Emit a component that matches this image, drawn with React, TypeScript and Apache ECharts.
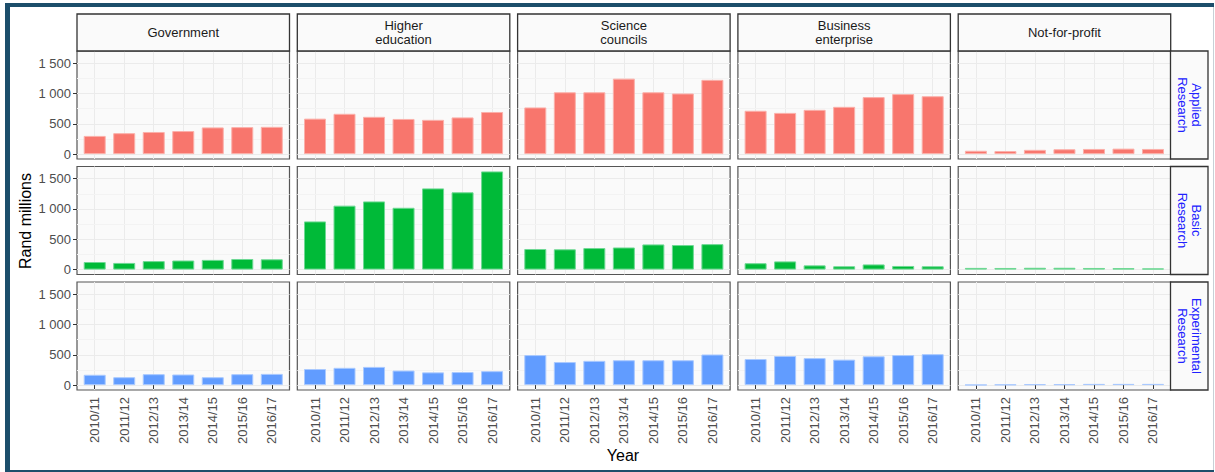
import React, { useEffect, useRef } from "react";
import * as echarts from "echarts";

const years = ["2010/11", "2011/12", "2012/13", "2013/14", "2014/15", "2015/16", "2016/17"];
const sectors = ["Government", "Higher\neducation", "Science\ncouncils", "Business\nenterprise", "Not-for-profit"];
const researchTypes = ["Applied\nResearch", "Basic\nResearch", "Experimental\nResearch"];
const yTicks = [0, 500, 1000, 1500];
const yMinorTicks = [250, 750, 1250];

// Applied research
const appliedGovernment = [300, 345, 365, 380, 440, 445, 450];
const appliedHigherEd = [585, 665, 615, 580, 565, 605, 695];
const appliedScience = [770, 1020, 1020, 1245, 1020, 1000, 1225];
const appliedBusiness = [715, 680, 730, 780, 940, 990, 955];
const appliedNotForProfit = [55, 50, 70, 80, 85, 90, 85];
// Basic research
const basicGovernment = [125, 110, 140, 150, 160, 175, 170];
const basicHigherEd = [795, 1055, 1125, 1020, 1340, 1275, 1620];
const basicScience = [340, 335, 355, 365, 415, 405, 420];
const basicBusiness = [105, 135, 70, 55, 85, 60, 55];
const basicNotForProfit = [28, 27, 30, 30, 27, 24, 20];
// Experimental research
const expGovernment = [170, 130, 180, 175, 130, 180, 185];
const expHigherEd = [265, 285, 300, 240, 210, 215, 230];
const expScience = [495, 380, 400, 410, 410, 410, 505];
const expBusiness = [430, 480, 445, 420, 475, 495, 510];
const expNotForProfit = [5, 10, 15, 15, 20, 20, 20];

const rowColors = ["#F8766D", "#00BA38", "#619CFF"];
const rowBorders = ["#FBB0AA", "#6ED894", "#A9C9FF"];

const FONT = "Liberation Sans, Arial, Helvetica, sans-serif";

function fmtY(v: number): string {
  if (v >= 1000) {
    const th = Math.floor(v / 1000);
    const rest = String(v % 1000).padStart(3, "0");
    return `${th} ${rest}`;
  }
  return String(v);
}

export default function App() {
  const ref = useRef<HTMLDivElement>(null);

  useEffect(() => {
    document.body.style.margin = "0";
    if (!ref.current) return;
    const chart = echarts.init(ref.current, undefined, { renderer: "svg" });

    const matrix = [
      [appliedGovernment, appliedHigherEd, appliedScience, appliedBusiness, appliedNotForProfit],
      [basicGovernment, basicHigherEd, basicScience, basicBusiness, basicNotForProfit],
      [expGovernment, expHigherEd, expScience, expBusiness, expNotForProfit],
    ];

    const colLeft = (c: number) => 77 + c * 220.3;
    const rowTop = (r: number) => 51 + r * 115.5;
    const panelW = 212.5;
    const panelH = 108;

    const grids: any[] = [];
    const xAxes: any[] = [];
    const yAxes: any[] = [];
    const series: any[] = [];

    for (let r = 0; r < 3; r++) {
      for (let c = 0; c < 5; c++) {
        const idx = r * 5 + c;
        grids.push({
          left: colLeft(c),
          top: rowTop(r),
          width: panelW,
          height: panelH,
          show: true,
          backgroundColor: "#fafafa",
          borderColor: "#555555",
          borderWidth: 1.2,
          containLabel: false,
        });
        const bottom = r === 2;
        xAxes.push({
          type: "value",
          gridIndex: idx,
          min: 0.4,
          max: 7.6,
          axisLine: { show: false },
          axisTick: {
            show: bottom,
            customValues: [1, 2, 3, 4, 5, 6, 7],
            length: 4,
            lineStyle: { color: "#333333", width: 1 },
          },
          axisLabel: {
            show: bottom,
            customValues: [1, 2, 3, 4, 5, 6, 7],
            formatter: (v: number) => years[Math.round(v) - 1] ?? "",
            rotate: 90,
            margin: 7,
            color: "#4d4d4d",
            fontSize: 13,
            fontFamily: FONT,
          },
          splitLine: { show: true, lineStyle: { color: "#ebebeb", width: 1 } },
        });
        const left = c === 0;
        yAxes.push({
          type: "value",
          gridIndex: idx,
          min: -81,
          max: 1701,
          axisLine: { show: false },
          axisTick: {
            show: left,
            customValues: yTicks,
            length: 4,
            lineStyle: { color: "#333333", width: 1 },
          },
          axisLabel: {
            show: left,
            customValues: yTicks,
            formatter: (v: number) => fmtY(v),
            margin: 6,
            color: "#4d4d4d",
            fontSize: 13,
            fontFamily: FONT,
          },
          splitLine: { show: true, lineStyle: { color: "#ebebeb", width: 1 } },
        });
        series.push({
          type: "line",
          xAxisIndex: idx,
          yAxisIndex: idx,
          data: [],
          z: 1,
          silent: true,
          markLine: {
            silent: true,
            z: 1,
            symbol: ["none", "none"],
            label: { show: false },
            lineStyle: { color: "#f3f3f3", width: 1, type: "solid" },
            emphasis: { disabled: true },
            data: yMinorTicks.map((v) => ({ yAxis: v })),
          },
        });
        series.push({
          type: "bar",
          xAxisIndex: idx,
          yAxisIndex: idx,
          barWidth: 22,
          z: 3,
          data: matrix[r][c].map((v, i) => [i + 1, v]),
          itemStyle: {
            color: rowColors[r],
            borderColor: rowBorders[r],
            borderWidth: 1,
          },
        });
      }
    }

    const graphics: any[] = [];
    // outer frame
    graphics.push({
      type: "rect",
      shape: { x: 1213, y: 5, width: 1, height: 465 },
      style: { fill: "#c8d0d6" },
      z: 10,
    });
    graphics.push({ type: "rect", shape: { x: 5, y: 3, width: 1209, height: 4 }, style: { fill: "#1c4e6b" }, z: 10 });
    graphics.push({ type: "rect", shape: { x: 5, y: 3, width: 5, height: 469 }, style: { fill: "#1c4e6b" }, z: 10 });
    graphics.push({ type: "rect", shape: { x: 5, y: 470, width: 1209, height: 2 }, style: { fill: "#1c4e6b" }, z: 10 });

    // top strips
    for (let c = 0; c < 5; c++) {
      graphics.push({
        type: "rect",
        shape: { x: colLeft(c), y: 14, width: panelW, height: 37 },
        style: { fill: "#fafafa", stroke: "#333333", lineWidth: 1.3 },
        z: 5,
      });
      graphics.push({
        type: "text",
        x: colLeft(c) + panelW / 2,
        y: 32.5,
        style: {
          text: sectors[c],
          fill: "#1a1a1a",
          font: `13px ${FONT}`,
          align: "center",
          verticalAlign: "middle",
          lineHeight: 14,
        },
        z: 6,
      });
    }
    // right strips
    for (let r = 0; r < 3; r++) {
      graphics.push({
        type: "rect",
        shape: { x: 1170.5, y: rowTop(r), width: 37.5, height: panelH },
        style: { fill: "#fafafa", stroke: "#333333", lineWidth: 1.3 },
        z: 5,
      });
      graphics.push({
        type: "text",
        x: 1189,
        y: rowTop(r) + panelH / 2,
        rotation: -Math.PI / 2,
        style: {
          text: researchTypes[r],
          fill: "#2020ff",
          font: `13px ${FONT}`,
          align: "center",
          verticalAlign: "middle",
          lineHeight: 14,
        },
        z: 6,
      });
    }
    // axis titles
    graphics.push({
      type: "text",
      x: 25,
      y: 221,
      rotation: Math.PI / 2,
      style: {
        text: "Rand millions",
        fill: "#000000",
        font: `16px ${FONT}`,
        align: "center",
        verticalAlign: "middle",
      },
      z: 6,
    });
    graphics.push({
      type: "text",
      x: 623,
      y: 455,
      style: {
        text: "Year",
        fill: "#000000",
        font: `16px ${FONT}`,
        align: "center",
        verticalAlign: "middle",
      },
      z: 6,
    });

    chart.setOption({
      animation: false,
      backgroundColor: "#ffffff",
      grid: grids,
      xAxis: xAxes,
      yAxis: yAxes,
      series,
      graphic: graphics,
    });

    return () => {
      chart.dispose();
    };
  }, []);

  return (
    <div
      ref={ref}
      style={{ position: "absolute", left: 0, top: 0, width: 1215, height: 472 }}
    />
  );
}
